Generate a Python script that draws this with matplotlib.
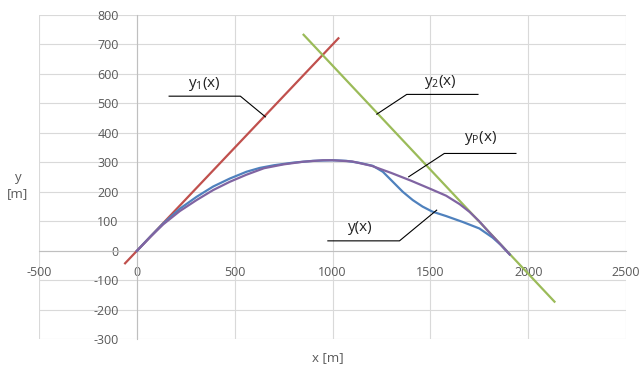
import numpy as np
import matplotlib.pyplot as plt

plt.rcParams['font.family'] = ['Open Sans', 'DejaVu Sans']
plt.rcParams['mathtext.fontset'] = 'custom'
plt.rcParams['mathtext.rm'] = 'Open Sans'
plt.rcParams['mathtext.it'] = 'Open Sans'
plt.rcParams['axes.unicode_minus'] = False

# tangent lines
y1_x = [-60, 1030]
y1_y = [-42, 720]
y2_x = [852, 2134]
y2_y = [732, -172]

# y(x) - measured trajectory
y_x = [0, 70, 135, 220, 305, 390, 475, 560, 628, 700, 800, 900, 1000, 1070, 1138,
       1206, 1257, 1308, 1359, 1410, 1460, 1510, 1580, 1665, 1750, 1818, 1860, 1905]
y_y = [0, 49, 93, 143, 183, 218, 245, 268, 281, 290, 299, 305, 307, 305, 298,
       288, 268, 234, 200, 172, 150, 133, 118, 98, 76, 45, 20, -12]

# yP(x)
yp_x = [0, 70, 135, 220, 305, 390, 475, 560, 650, 750, 850, 950, 1000, 1100, 1200,
        1300, 1400, 1500, 1580, 1650, 1700, 1750, 1800, 1850, 1905]
yp_y = [0, 48, 90, 135, 172, 206, 234, 258, 280, 293, 302, 307, 307, 303, 288,
        264, 238, 210, 187, 158, 132, 100, 63, 28, -12]

xticks = np.arange(-500, 2501, 500)
yticks = np.arange(-300, 801, 100)

fig = plt.figure(figsize=(6.41, 3.67), dpi=100)
ax = fig.add_axes([0.0608, 0.075, 0.916, 0.885])

ax.plot(y1_x, y1_y, color='#C0504D', lw=1.6, zorder=3)
ax.plot(y2_x, y2_y, color='#9BBB59', lw=1.6, zorder=3)
ax.plot(y_x, y_y, color='#4F81BD', lw=1.6, zorder=4)
ax.plot(yp_x, yp_y, color='#8064A2', lw=1.6, zorder=5)

ax.set_xlim(-500, 2500)
ax.set_ylim(-300, 800)
ax.set_xticks(xticks)
ax.set_yticks(yticks)
ax.grid(True, color='#D9D9D9', lw=0.8)
ax.set_axisbelow(True)

for s in ['top', 'right']:
    ax.spines[s].set_visible(False)
ax.spines['left'].set_position(('data', 0))
ax.spines['bottom'].set_position(('data', 0))
ax.spines['left'].set_color('#BFBFBF')
ax.spines['bottom'].set_color('#BFBFBF')
ax.tick_params(axis='x', length=0, pad=11, labelsize=9, colors='#595959')
ax.tick_params(axis='y', length=0, pad=13, labelsize=9, colors='#595959')

fig.text(0.028, 0.495, 'y\n[m]', ha='center', va='center', fontsize=9.5,
         color='#595959', linespacing=1.3)
fig.text(0.512, 0.025, 'x [m]', ha='center', va='center', fontsize=9.5,
         color='#595959')

# leader lines with labels
ax.plot([165, 529, 657], [524, 524, 454], color='black', lw=0.8, zorder=6)
ax.text(347, 565, r'y$_1$(x)', ha='center', va='center', fontsize=11, color='#222222')

ax.plot([1226, 1379, 1743], [463, 530, 530], color='black', lw=0.8, zorder=6)
ax.text(1549, 572, r'y$_2$(x)', ha='center', va='center', fontsize=11, color='#222222')

ax.plot([1389, 1571, 1937], [251, 330, 330], color='black', lw=0.8, zorder=6)
ax.text(1754, 381, r'y$_\mathrm{P}$(x)', ha='center', va='center', fontsize=11, color='#222222')

ax.plot([1532, 1342, 976], [138, 34, 34], color='black', lw=0.8, zorder=6)
ax.text(1141, 78, 'y(x)', ha='center', va='center', fontsize=11, color='#222222')

fig.savefig('out.png', dpi=100)
